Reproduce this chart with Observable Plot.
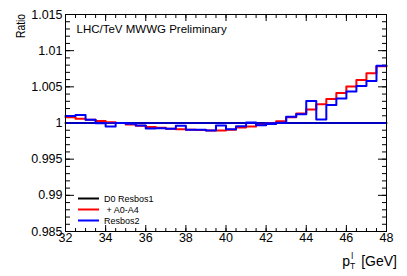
<!DOCTYPE html>
<html><head><meta charset="utf-8">
<script src="https://cdn.jsdelivr.net/npm/d3@7"></script>
<script src="https://cdn.jsdelivr.net/npm/@observablehq/plot@0.6"></script>
<style>
body{margin:0;background:#fff;}
#chart{position:relative;width:407px;height:276px;}
</style>
</head><body><div id="chart"></div>
<script>
// ---- data ----
const binLow = [32,32.5,33,33.5,34,34.5,35,35.5,36,36.5,37,37.5,38,38.5,39,39.5,40,40.5,41,41.5,42,42.5,43,43.5,44,44.5,45,45.5,46,46.5,47,47.5];
const binEnd = 48;
const resbos1 = [1,1,1,1,1,1,1,1,1,1,1,1,1,1,1,1,1,1,1,1,1,1,1,1,1,1,1,1,1,1,1,1];
const a0a4 = [1.0008,1.0006,1.00046,1.00028,1.00012,1.0000,0.9998,0.99963,0.99945,0.99935,0.99922,0.99913,0.99908,0.99903,0.99898,0.99895,0.99908,0.99938,0.9995,0.9998,1.0000,1.00023,1.0008,1.0013,1.00188,1.0026,1.00333,1.00415,1.00505,1.00595,1.00688,1.00783];
const resbos2 = [1.00097,1.0011,1.00046,0.99995,0.99952,1.0000,0.9999,0.99965,0.99925,0.99928,0.99922,0.99963,0.99908,0.99908,0.99898,0.99965,0.99915,0.99956,1.00007,0.9997,0.99985,1.00005,1.00085,1.0012,1.00305,1.0005,1.0025,1.0034,1.00435,1.0051,1.0058,1.0079];
const seriesNames = ["D0 Resbos1", " + A0-A4", "Resbos2"];
const seriesColors = ["#000000", "#ff0000", "#0000ff"];
const yMajor = [0.985,0.99,0.995,1,1.005,1.01,1.015];
const yTickLabels = ["0.985","0.99","0.995","1","1.005","1.01","1.015"];
const xMajor = [32,34,36,38,40,42,44,46,48];
const xTickLabels = ["32","34","36","38","40","42","44","46","48"];
const yMinor = d3.range(0, 31).map(i => +(0.985 + i * 0.001).toFixed(3));
const xMinor = binLow.concat([binEnd]);
const titleText = "LHC/TeV MWWG Preliminary";
const yLabel = "Ratio";

// ---- build ----
const W = 407, H = 276, mL = 65, mR = 21, mT = 14, mB = 45;
function stepData(vals) {
  return binLow.map((x, i) => ({x, y: vals[i]})).concat([{x: binEnd, y: vals[vals.length - 1]}]);
}
const font = "'Liberation Sans', Arial, Helvetica, sans-serif";
const tickOpts = {fill: "none", label: null, stroke: "#000", strokeWidth: 1};

const plot = Plot.plot({
  width: W, height: H,
  marginLeft: mL, marginRight: mR, marginTop: mT, marginBottom: mB,
  style: {fontFamily: font, fontSize: "12.5px", background: "white", color: "black", overflow: "visible"},
  x: {domain: [32, 48], label: null},
  y: {domain: [0.985, 1.015], label: null},
  marks: [
    Plot.axisY(yMinor, {anchor: "left", tickSize: -5, ...tickOpts}),
    Plot.axisY(yMajor, {anchor: "left", tickSize: -9, ...tickOpts}),
    Plot.axisY(yMinor, {anchor: "right", tickSize: -5, ...tickOpts}),
    Plot.axisY(yMajor, {anchor: "right", tickSize: -9, ...tickOpts}),
    Plot.axisX(xMinor, {anchor: "bottom", tickSize: -3, ...tickOpts}),
    Plot.axisX(xMajor, {anchor: "bottom", tickSize: -6, ...tickOpts}),
    Plot.axisX(xMinor, {anchor: "top", tickSize: -3, ...tickOpts}),
    Plot.axisX(xMajor, {anchor: "top", tickSize: -6, ...tickOpts}),
    Plot.axisY(yMajor, {anchor: "left", tickSize: 0, tickPadding: 3, label: null, fill: "#000",
      tickFormat: d => yTickLabels[yMajor.indexOf(d)]}),
    Plot.axisX(xMajor, {anchor: "bottom", tickSize: 0, tickPadding: 2, label: null, fill: "#000",
      tickFormat: d => xTickLabels[xMajor.indexOf(d)]}),
    Plot.line(stepData(resbos1), {x: "x", y: "y", curve: "step-after", stroke: seriesColors[0], strokeWidth: 2}),
    Plot.line(stepData(a0a4), {x: "x", y: "y", curve: "step-after", stroke: seriesColors[1], strokeWidth: 2}),
    Plot.line(stepData(resbos2), {x: "x", y: "y", curve: "step-after", stroke: seriesColors[2], strokeWidth: 2}),
    Plot.ruleY([1], {stroke: seriesColors[2], strokeWidth: 1.3}),
    Plot.frame({stroke: "#000", strokeWidth: 1}),
    Plot.text([titleText], {frameAnchor: "top-left", dx: 11, dy: 18, text: d => d, fontSize: 11.5, textAnchor: "start", lineAnchor: "bottom", fill: "#000"})
  ]
});
document.getElementById("chart").appendChild(plot);

// ---- extra text (axis titles, legend) ----
const svg = d3.select(plot);
svg.append("text")
  .attr("transform", `translate(25,${mT}) rotate(-90)`)
  .attr("text-anchor", "end")
  .attr("font-family", font).attr("font-size", 12.5).attr("fill", "#000")
  .attr("textLength", 24).attr("lengthAdjust", "spacingAndGlyphs")
  .text(yLabel);

const xl = svg.append("text")
  .attr("x", 397).attr("y", 265.5)
  .attr("text-anchor", "end")
  .attr("font-family", font).attr("font-size", 14).attr("fill", "#000");
xl.append("tspan").text("p");
xl.append("tspan").attr("font-size", 8.5).attr("dy", 3).text("T");
xl.append("tspan").attr("font-size", 8.5).attr("dx", -4).attr("dy", -10).text("l");
xl.append("tspan").attr("dx", 8).attr("dy", 7).text("[GeV]");

const legendRowsY = [198.5, 209.5, 220.5];
const leg = svg.append("g");
seriesNames.forEach((name, i) => {
  leg.append("line").attr("x1", 78).attr("x2", 99).attr("y1", legendRowsY[i]).attr("y2", legendRowsY[i])
    .attr("stroke", seriesColors[i]).attr("stroke-width", 2);
  leg.append("text").attr("x", 104).attr("y", legendRowsY[i] + 3.2)
    .attr("text-anchor", "start")
    .attr("font-family", font).attr("font-size", 9).attr("fill", "#000")
    .style("white-space", "pre").attr("xml:space", "preserve")
    .text(name);
});
</script>
</body></html>
